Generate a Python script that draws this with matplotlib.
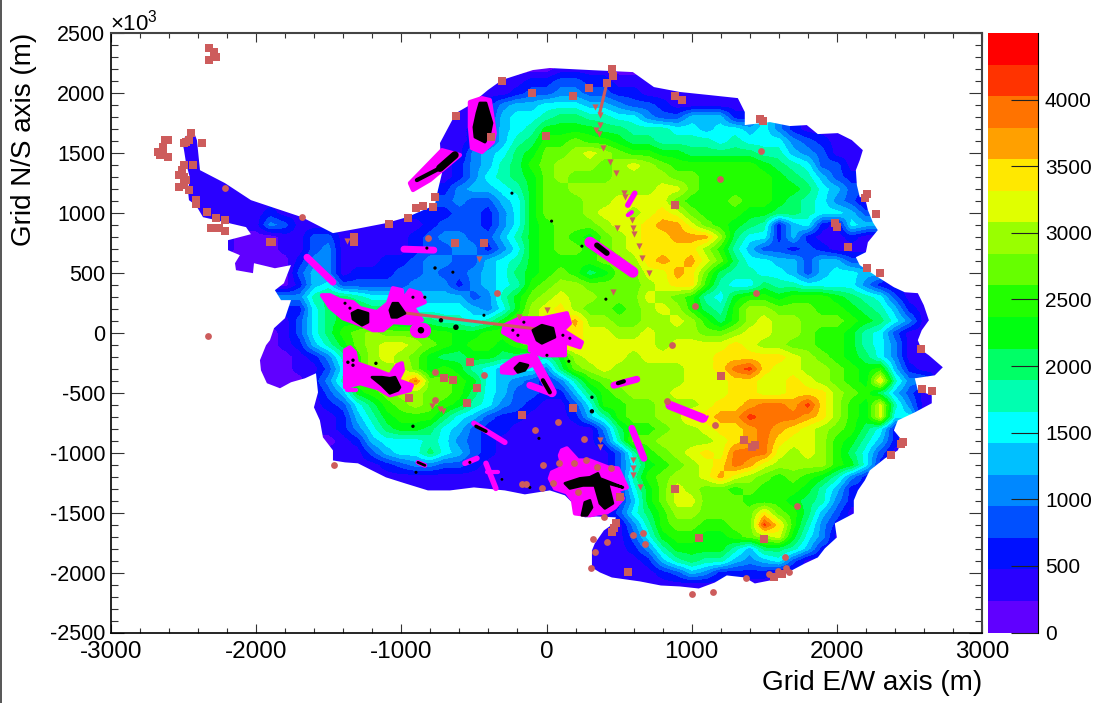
import numpy as np
import matplotlib
matplotlib.use('Agg')
import matplotlib.pyplot as plt
from matplotlib.colors import ListedColormap, BoundaryNorm
from matplotlib.lines import Line2D
from matplotlib.patches import Polygon

plt.rcParams['font.family'] = ['Liberation Sans', 'DejaVu Sans']
plt.rcParams['axes.unicode_minus'] = False
plt.rcParams['mathtext.fontset'] = 'custom'
plt.rcParams['mathtext.rm'] = 'Liberation Sans'

# palette, bottom band first
band_colors = ['#6000ff', '#2a00ff', '#0010ff', '#0050ff', '#0088ff', '#00c0ff', '#00ffff',
               '#00ffb0', '#00ff66', '#00ff11', '#22ff00', '#66ff00', '#99ff00', '#e0ff00',
               '#ffe800', '#ffa000', '#ff7300', '#ff3300', '#ff0000']
band_chars = '0123456789abcdefghi'
z_max = 4500

# ice surface read row by row, 100 km cells: row y, x of first cell, band of each cell
row_y = [2200, 2100, 2000, 1900, 1800, 1700, 1600, 1500, 1400, 1300, 1200, 1100, 1000, 900, 800,
         700, 600, 500, 400, 300, 200, 100, 0, -100, -200, -300, -400, -500, -600, -700, -800,
         -900, -1000, -1100, -1200, -1300, -1400, -1500, -1600, -1700, -1800, -1900, -2000]
row_x0 = [-100, -300, -400, -500, -600, -700, -700, -700, -700, -700, -700, -700, -900, -1100, -2000,
          -2200, -2100, -1900, -1800, -1700, -1700, -1800, -1900, -1900, -2000, -2000, -1600, -1600, -1600, -1600, -1500,
          -1500, -1400, -1300, -1100, -800, 200, 200, 500, 400, 300, 300, 400]
row_bands = [
    '00111100',
    '1122332211',
    '1123344332211111',
    '1245566655433211111',
    '11256678877664335552',
    '112356799998877766566564211',
    '1123578aabaa98877776766643211',
    '11456' '89bbcdcbaa99888887754311',
    '124578abcccbcdcbaaaaaa9876331',
    '1246789bcbbbccccbbaaaaa987532',
    '2455679bbccccccddbaaaaa998653',
    '3433569bbbccddddbaaabaa9876431',
    '222332469bbbcddcdedbaaa998876653',
    '11123332469abbbcddeffdba9872562165',
    '00113311111234433579aba9bcdeefffc8662521121',
    '1000113411' '1112334424' '69abbabcde' 'eeeca75332' '32111',
    '0000244111' '2234433567' '9aaaabbcef' 'efdb866553' '553',
    '0035412223' '343345689a' 'ba89bbddfe' 'b877665356' '65',
    '0256333334' '4424567abc' 'cbbbbcdeea' '7668776666' '421',
    '4788766555' '553479bcdc' 'cbbbdcba76' '9aa9aaa987' '631',
    '2689988766' '665469cdec' 'bbabcdca87' 'accbbbaa98' '7521',
    '1368999988' '877679bcdd' 'fccbbccdca' '8acdccbbba' '98641',
    '01368abcbb' 'baa99aacde' 'eeddccdccc' 'bbcddccbaa' '97631',
    '012579bcdd' 'cba9aa9abd' 'eedddddcdd' 'ddedccbbaa' '97641',
    '0001247acd' 'cb98899887' '79cdddcddd' 'ddeeeeedcb' 'a986411',
    '0001136acc' 'db9a976566' '48bcdccccc' 'ddegheddcc' 'ba9a5211',
    '247abcdgbb' 'a96543247a' 'bcccccddde' 'eddedcba9e' '74',
    '1359abccbb' 'a865332258' 'abcccdddde' 'eddeeecba8' '531',
    '12368abcba' '9764321136' 'aabbcccdee' 'fggfheca9d' '741',
    '112579aaa8' '6532211125' '7abbcceeff' 'hgggfeca9d' '6',
    '1246899865' '3221111114' '8aabccdeef' 'gfedcba862',
    '0125666764' '3211111113' '7bbccccdef' 'geddca9752',
    '1135668653' '2111111113' '7abcdedggg' 'dcdca8631',
    '1123443321' '1111111136' '9abcdegfdc' 'ccca962',
    '1111111111111111' '37abccdfdcbaba9742',
    '1111111111111' '269bdcbbabaaa9752',
    '111259bddbbbaaa98742',
    '111368accbbbbeba8531',
    '147abbaabbhea742',
    '11369aa99abcd9641',
    '11124799997588752',
    '1111257877545631',
    '11112354222211',
]
# peninsula and other pieces that sit apart from the main row
part_y = [1600, 1500, 1400, 1300, 1200, 1100, 1000, 900, -400, -2100, -2100]
part_x0 = [-2500, -2500, -2500, -2400, -2400, -2400, -2300, -2100, -1900, 800, 1300]
part_bands = ['1', '11', '11', '11', '1111', '11111', '1111211', '114311', '000', '1111', '11']

# edge of the surveyed area
coast_x = [-404, -307, -94, 23, 299, 595, 740, 919, 1125, 1318, 1366, 1366, 1539, 1676, 1793, 1869, 2007, 2103, 2179, 2158,
           2131, 2138, 2158, 2193, 2214, 2248, 2282, 2214, 2200, 2131, 2158, 2262, 2393, 2468, 2558, 2599, 2634, 2585, 2558, 2585,
           2634, 2730, 2675, 2537, 2558, 2654, 2654, 2537, 2420, 2393, 2448, 2420, 2331, 2227, 2193, 2145, 2117, 2117, 1986, 2000,
           1917, 1869, 1780, 1649, 1539, 1435, 1366, 1242, 1160, 1049, 919, 788, 644, 450, 368, 313, 313, 333, 395, 464,
           478, 340, 264, 203, 182, 127, 23, -149, -287, -500, -665, -817, -975, -1106, -1202, -1299, -1388, -1471, -1471, -1540,
           -1561, -1602, -1574, -1588, -1664, -1760, -1836, -1926, -1967, -1974, -1932, -1905, -1877, -1802, -1760, -1829, -1871, -1809, -1774, -1760,
           -1871, -2015, -2022, -2139, -2146, -2112, -2194, -2194, -2036, -2070, -2215, -2366, -2415, -2463, -2470, -2456, -2483, -2497, -2511, -2435,
           -2408, -2387, -2215, -2036, -1685, -1471, -1285, -1106, -961, -769, -748, -720, -734, -624, -528]
coast_y = [2024, 2108, 2191, 2208, 2191, 2174, 2049, 2008, 1982, 1957, 1841, 1732, 1757, 1724, 1732, 1657, 1665, 1607, 1523, 1440,
           1356, 1231, 1131, 1131, 1023, 922, 856, 755, 672, 630, 564, 480, 380, 338, 330, 230, 104, 21, -62, -146,
           -188, -288, -355, -380, -480, -522, -588, -664, -731, -814, -897, -981, -1048, -1148, -1231, -1315, -1398, -1507, -1590, -1707,
           -1799, -1874, -1924, -2008, -2066, -2091, -2041, -2024, -2083, -2133, -2116, -2108, -2074, -2041, -1999, -1958, -1816, -1757, -1649, -1590,
           -1540, -1532, -1540, -1465, -1423, -1356, -1315, -1348, -1315, -1290, -1315, -1315, -1256, -1206, -1148, -1089, -1081, -1065, -981, -872,
           -731, -622, -497, -338, -380, -413, -463, -421, -313, -229, -104, -62, 38, 121, 272, 272, 355, 413, 522, 564,
           538, 580, 497, 522, 580, 647, 689, 772, 822, 881, 922, 964, 1064, 1106, 1190, 1290, 1415, 1523, 1607, 1690,
           1607, 1356, 1248, 1106, 964, 831, 872, 914, 964, 1064, 1190, 1331, 1582, 1832, 1899]

# reddish station markers
square_x = [-2325, -2291, -2277, -2325, -2628, -2607, -2642, -2676, -2642, -2607, -2663, -2483, -2449, -2497, -2463, -2373,
            -2497, -2435, -2511, -2497, -2532, -2483, -2532, -2497, -2463, -2415, -2415, -2339, -2277, -2215, -2311, -2256, -2215,
            -1905, -1890, -1326, -1326, -1085, -955, -899, -851, -782, -768, -631, -431, -624, -307, -101, -4, -383,
            182, 292, 450, 457, 416, 884, 932, 1470, 1490, 2207, 2193, 2269, 1986, 2000, 2076, 2207, 2296, 884,
            2578, 2585, 2654, 2454, 2440, 2371, 1201, 1359, 1414, 1435, 884, 1049, 1497, 1566, 1621, 561, 182, 505, 464, 478, 450,
            -948, -707, -645, -528, -479, -548, -170]
square_y = [2375, 2341, 2300, 2275, 1607, 1607, 1548, 1507, 1498, 1465, 1482, 1590, 1665, 1582, 1607, 1582,
            1398, 1398, 1356, 1298, 1315, 1273, 1215, 1231, 1190, 1105, 1073, 1006, 956, 939, 872, 872, 847,
            755, 755, 797, 760, 906, 956, 1039, 1056, 1048, 1131, 747, 747, 1807, 2099, 1999, 1640, 1632,
            1974, 2041, 2200, 2141, 2082, 1974, 1941, 1782, 1765, 1156, 1123, 989, 914, 880, 714, 538, 497, 1064,
            -138, -472, -489, -914, -930, -1022, -363, -897, -956, -939, -1306, -1715, -1724, -2041, -2016, -1999, -630, -1373, -1632, -1590, -1660,
            -547, -380, -396, -246, -463, -588, -689]
circle_x = [-2332, -2215, -1685, -817, -342, 1477, 1195, 1442, 1022, -1464, -769, -769, -431, -80, -25, -170, -142, -32,
            864, 830, 1160, 1724, 1642, 1649, 1669, 1594, 1532, 1373, 1001, 1146, 595, 664, 678, 320, 416, 333, 306,
            78, 258, 85, 189, 271, 347, 444, 44, 216, 395]
circle_y = [-29, 1206, 964, 789, 330, 1515, 1281, 330, 221, -1106, -330, -563, -355, -814, -1106, -1264, -1264, -1298,
            -104, -572, -772, -1448, -1874, -1966, -1999, -1991, -2008, -2049, -2183, -2166, -1690, -1673, -1765, -1724, -1748, -1832, -1966,
            -747, -889, -1089, -1089, -1064, -1122, -1131, -1256, -1331, -1540]
triangle_x = [-1375, -466, -190, 3, 333, 368, 368, 340, 361, 388, 436, 478, 533, 540, 588, 485, 595, 602, 636, 657, 705, 457,
              368, 368, 595, 595, 595, 644, -789, -734, -713]
triangle_y = [764, 613, 129, 188, 1882, 1815, 1732, 1690, 1657, 1540, 1423, 1331, 1164, 1131, 939, 872, 872, 822, 722, 622, 497, 338,
              -897, -956, -1064, -1131, -1189, -1290, -613, -639, -655]
track_x = [[-961, 3], [416, 368]]
track_y = [[163, 21], [2082, 1841]]

# magenta survey lines: x ends, y ends, line width
magenta_x = [[-1650, -1471], [-982, -776], [-1375, -1313], [-94, 37], [-115, 37],
             [299, 595], [608, 560], [588, 560], [464, 622], [850, 1077], [1111, 1097], [588, 671], [-500, -287],
             [-562, -479], [-417, -349], [-411, -335], [-886, -838], [-890, -850]]
magenta_y = [[630, 422], [697, 689], [-480, -480], [-204, -497], [-438, -505],
             [755, 505], [1164, 1064], [1006, 981], [-438, -388], [-605, -714], [-697, -730], [-797, -1047], [-755, -914],
             [-1089, -1047], [-1089, -1298], [-1164, -1164], [-1081, -1106], [21, 21]]
magenta_w = [5, 5, 3, 7, 5, 8, 4, 3, 5, 6.5, 1.5, 5, 4, 4, 4, 3, 3.5, 11]

# magenta survey patches, outlines
patch_x = [[-528, -445, -390, -356, -369, -445, -514, -528],
           [-941, -720, -596, -803, -920],
           [-1547, -1492, -1423, -1333, -1285, -1168, -1092, -1058, -996, -989, -941, -872, -838, -920, -858, -941, -1058, -1127, -1196, -1271, -1402, -1492],
           [-1388, -1354, -1320, -1306, -1168, -1079, -1030, -996, -989, -1024, -927, -941, -1079, -1161, -1285, -1388],
           [-287, -183, -25, 140, 161, 113, 244, 230, 127, 127, -25, -115, -115, -204, -300],
           [-307, -218, -128, -101, -231, -307],
           [106, 140, 216, 299, 423, 492, 554, 485, 526, 471, 416, 354, 299, 196, 182, 140, 58, 23, 37, 113, 92]]
patch_y = [[1924, 1957, 1941, 1665, 1590, 1507, 1540, 1715],
           [1248, 1523, 1482, 1273, 1190],
           [313, 313, 272, 255, 205, 171, 246, 372, 355, 272, 355, 330, 255, 213, 104, 79, 88, 21, 21, 63, 121, 213],
           [-146, -121, -163, -254, -313, -355, -271, -254, -313, -396, -438, -480, -522, -463, -421, -455],
           [63, 121, 121, 163, 79, 21, -79, -121, -79, -188, -188, -146, -88, -62, 4],
           [-288, -213, -188, -271, -338, -330],
           [-981, -964, -1065, -1065, -1123, -1131, -1290, -1315, -1381, -1457, -1498, -1507, -1523, -1507, -1398, -1331, -1298, -1215, -1165, -1123, -1023]]

# black clusters on the patches, outlines
cluster_x = [[-479, -459, -417, -376, -390, -424, -493, -500],
             [-1340, -1299, -1230, -1230, -1271, -1333],
             [-1079, -1058, -1024, -975, -1030, -1065],
             [-1202, -1134, -1079, -1044, -1010, -1024, -1079, -1134],
             [-94, -32, 44, 58, -32, -66],
             [-218, -183, -128, -149, -197],
             [127, 230, 299, 354, 368, 526, 423, 457, 402, 368, 333, 251, 161],
             [244, 264, 299, 313, 278]]
cluster_y = [[1832, 1916, 1916, 1749, 1665, 1590, 1632, 1715],
             [162, 188, 162, 88, 63, 113],
             [188, 246, 246, 162, 129, 129],
             [-371, -371, -380, -371, -455, -480, -505, -438],
             [21, 63, 38, -37, -88, -62],
             [-296, -254, -271, -313, -330],
             [-1256, -1215, -1206, -1173, -1215, -1290, -1256, -1423, -1465, -1423, -1273, -1273, -1298],
             [-1523, -1415, -1398, -1457, -1523]]
black_x = [[-893, -734], [-734, -631], [-25, 23], [347, 416], [492, 533], [-486, -417], [-886, -838]]
black_y = [[1273, 1373], [1373, 1482], [-396, -497], [730, 664], [-421, -405], [-780, -822], [-1081, -1106]]
black_w = [3, 5.5, 3, 4, 3, 2.5, 2]
dot_x = [-768, -238, 35, 244, 409, -824, -768, -645, -431, -865, -624, -727, -1175, -920, -899, -52, -307, -528, -115, 154, 313, 313,
         -1388, -1354, -1333, -1368, -1333, -920, -838, -156, -232, -197, 161, 113, 3]
dot_y = [1131, 1164, 931, 722, 280, 706, 540, 505, 146, 21, 46, 104, -255, -780, -1164, -881, -1223, -1081, -1290, -238, -538, -655,
         246, 205, -271, -246, -229, 296, 296, 88, 21, -21, -46, -21, -188]
dot_s = [5, 5, 5, 5, 5, 5, 6, 5, 5, 22, 16, 10, 6, 6, 5, 5, 4, 5, 5, 5, 6, 10,
         5, 5, 6, 6, 6, 5, 5, 5, 5, 5, 5, 5, 5]

z_ticks = [0, 500, 1000, 1500, 2000, 2500, 3000, 3500, 4000]
x_ticks = [-3000, -2000, -1000, 0, 1000, 2000, 3000]
y_ticks = [-2500, -2000, -1500, -1000, -500, 0, 500, 1000, 1500, 2000, 2500]


def build_grid():
    xs = np.arange(-2700, 2800, 100)
    ys = np.arange(2200, -2300, -100)
    grid = np.full((len(ys), len(xs)), np.nan)
    step = z_max / len(band_colors)
    for y, x0, bands in zip(row_y + part_y, row_x0 + part_x0, row_bands + part_bands):
        r = int((2200 - y) / 100)
        c0 = int((x0 + 2700) / 100)
        for k, ch in enumerate(bands):
            if c0 + k < len(xs):
                grid[r, c0 + k] = (band_chars.index(ch) + 0.5) * step
    # carry edge cells outwards, the coast outline clips them afterwards
    for _ in range(5):
        old = grid.copy()
        for r, c in zip(*np.where(np.isnan(old))):
            for dr, dc in [(0, -1), (0, 1), (-1, 0), (1, 0)]:
                if 0 <= r + dr < len(ys) and 0 <= c + dc < len(xs) and not np.isnan(old[r + dr, c + dc]):
                    grid[r, c] = old[r + dr, c + dc]
                    break
    return grid


def main():
    fig = plt.figure(figsize=(10.95, 7.03), dpi=100)
    W, H = 1095.0, 703.0
    ax = fig.add_axes([111 / W, 1 - 632.5 / H, 871 / W, 599.5 / H])
    cax = fig.add_axes([988 / W, 1 - 632.5 / H, 50 / W, 599.5 / H])

    levels = np.linspace(0, z_max, len(band_colors) + 1)
    cmap = ListedColormap(band_colors)
    norm = BoundaryNorm(levels, cmap.N)
    grid = np.ma.masked_invalid(build_grid())
    im = ax.imshow(grid, extent=(-2750, 2750, -2250, 2250), origin='upper', cmap=cmap, norm=norm,
                   interpolation='bilinear', interpolation_stage='data', aspect='auto', zorder=1)
    coast = Polygon(np.column_stack([coast_x, coast_y]), closed=True, transform=ax.transData)
    im.set_clip_path(coast)

    for xs, ys in zip(patch_x, patch_y):
        ax.fill(xs, ys, facecolor='#ff00ff', edgecolor='#ff00ff', lw=3, joinstyle='round', zorder=2)
    for xs, ys, w in zip(magenta_x, magenta_y, magenta_w):
        ax.plot(xs, ys, color='#ff00ff', lw=w, solid_capstyle='round', zorder=2)
    for xs, ys in zip(track_x, track_y):
        ax.plot(xs, ys, color='#cd5c5c', lw=2.2, zorder=3)
    for xs, ys in zip(cluster_x, cluster_y):
        ax.fill(xs, ys, facecolor='black', edgecolor='black', lw=2, joinstyle='round', zorder=4)
    for xs, ys, w in zip(black_x, black_y, black_w):
        ax.plot(xs, ys, color='black', lw=w, solid_capstyle='round', zorder=4)
    ax.scatter(dot_x, dot_y, s=dot_s, color='black', linewidths=0, zorder=4)
    ax.scatter(square_x, square_y, s=26, marker='s', color='#cd5c5c', linewidths=0, zorder=5)
    ax.scatter(circle_x, circle_y, s=24, marker='o', color='#cd5c5c', linewidths=0, zorder=5)
    ax.scatter(triangle_x, triangle_y, s=20, marker='v', color='#cd5c5c', linewidths=0, zorder=5)

    ax.set_xlim(-3000, 3000)
    ax.set_ylim(-2500, 2500)
    ax.set_xticks(x_ticks)
    ax.set_yticks(y_ticks)
    ax.set_xticks(np.arange(-3000, 3001, 200), minor=True)
    ax.set_yticks(np.arange(-2500, 2501, 100), minor=True)
    ax.tick_params(axis='x', which='major', direction='in', length=6.7, width=0.8, top=True, labelsize=17.5, pad=6, color='#333333')
    ax.tick_params(axis='x', which='minor', direction='in', length=3.4, width=0.8, top=True, color='#333333')
    ax.tick_params(axis='y', which='major', direction='in', length=9.6, width=0.8, right=True, labelsize=15.5, pad=4, color='#333333')
    ax.tick_params(axis='y', which='minor', direction='in', length=4.8, width=0.8, right=True, color='#333333')
    for side in ['top', 'right']:
        ax.spines[side].set_color('#444444')
        ax.spines[side].set_linewidth(1.5)
    for side in ['left', 'bottom']:
        ax.spines[side].set_linewidth(1.2)

    fig.text(982 / W, 1 - 683 / H, 'Grid E/W axis (m)', ha='right', va='center', fontsize=20.1)
    fig.text(24 / W, 1 - 33 / H, 'Grid N/S axis (m)', ha='center', va='top', rotation=90, fontsize=20)
    fig.text(110 / W, 1 - 31 / H, r'$\times$10$^{3}$', ha='left', va='baseline', fontsize=16)

    cb = fig.colorbar(im, cax=cax, boundaries=levels, spacing='proportional', drawedges=False)
    cb.set_ticks(z_ticks)
    cb.ax.tick_params(axis='y', direction='in', length=19.5, width=0.8, pad=5, right=True, left=False, color='#222222')
    cb.ax.minorticks_off()
    for t in cb.ax.get_yticklabels():
        t.set_fontsize(15)
    cb.outline.set_visible(False)
    cax.plot([1, 1], [0, 1], transform=cax.transAxes, color='black', lw=0.8, clip_on=False)

    # dark strip down the left edge of the window
    fig.add_artist(Line2D([1 / W, 1 / W], [0, 1], color='#555555', lw=1.4))

    fig.savefig('out.png', dpi=100)


if __name__ == "__main__":
    main()
